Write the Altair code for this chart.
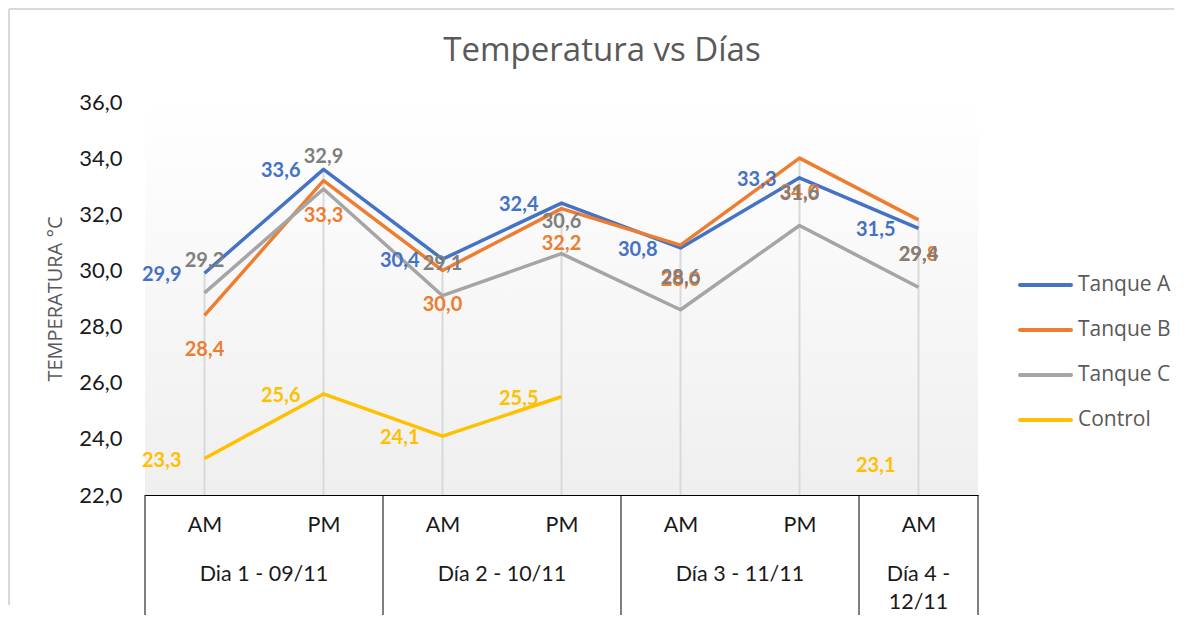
import altair as alt
import pandas as pd

# ---------------- data ----------------
idx = [0, 1, 2, 3, 4, 5, 6]
slots = ["AM", "PM", "AM", "PM", "AM", "PM", "AM"]
day_names = ["Dia 1 - 09/11", "Día 2 - 10/11", "Día 3 - 11/11", "Día 4 -\n12/11"]
day_first = [0, 2, 4, 6]
day_last = [1, 3, 5, 6]

series_names = ["Tanque A", "Tanque B", "Tanque C", "Control"]
series_colors = ["#4472C4", "#ED7D31", "#A5A5A5", "#FFC000"]
label_colors = ["#4472C4", "#ED7D31", "#7F7F7F", "#FFC000"]

tanque_a = [29.9, 33.6, 30.4, 32.4, 30.8, 33.3, 31.5]
tanque_b = [28.4, 33.2, 30.0, 32.2, 30.9, 34.0, 31.8]
tanque_c = [29.2, 32.9, 29.1, 30.6, 28.6, 31.6, 29.4]
control = [23.3, 25.6, 24.1, 25.5, None, None, 23.1]

labels_a = ["29,9", "33,6", "30,4", "32,4", "30,8", "33,3", "31,5"]
labels_b = ["28,4", "33,3", "30,0", "32,2", "28,0", "34,0", "29,8"]
labels_c = ["29,2", "32,9", "29,1", "30,6", "28,6", "31,6", "29,4"]
labels_ctrl = ["23,3", "25,6", "24,1", "25,5", None, None, "23,1"]

title_text = "Temperatura vs Días"
y_title = "TEMPERATURA °C"
y_min, y_max = 22, 36

# ---------------- tables ----------------
values = [tanque_a, tanque_b, tanque_c, control]
labels = [labels_a, labels_b, labels_c, labels_ctrl]
rows = []
for s, vals, labs in zip(series_names, values, labels):
    for i, v, l in zip(idx, vals, labs):
        rows.append({"series": s, "idx": i, "value": v, "label": l})
df = pd.DataFrame(rows)

df_days = pd.DataFrame({
    "name": day_names,
    "center": [(a + b) / 2 for a, b in zip(day_first, day_last)],
})
df_sep = pd.DataFrame({"pos": [day_first[0] - 0.5] + [b + 0.5 for b in day_last]})
one = pd.DataFrame({"a": [0]})

W, H = 833, 393
PAD = {"left": 137, "top": 94, "right": 208, "bottom": 120}
FONT_NUM = "Lato"
FONT_UI = "Open Sans"

x_enc = alt.X("idx:Q", scale=alt.Scale(domain=[-0.5, 6.5], nice=False, zero=False),
              axis=alt.Axis(values=idx, labelExpr="datum.value % 2 == 0 ? 'AM' : 'PM'",
                            ticks=False, grid=False, domainColor="#000000", domainWidth=1,
                            labelFont=FONT_NUM, labelFontSize=21.5, labelColor="#1a1a1a",
                            labelPadding=19, title=None))
y_enc = alt.Y("value:Q", scale=alt.Scale(domain=[y_min, y_max], nice=False, zero=False),
              axis=alt.Axis(values=list(range(y_min, y_max + 1, 2)),
                            labelExpr="replace(format(datum.value, '.1f'), '.', ',')",
                            ticks=False, grid=False, domainColor="#000000", domainWidth=1,
                            labelFont=FONT_NUM, labelFontSize=22, labelColor="#1a1a1a",
                            labelPadding=23, title=y_title, titleFont=FONT_UI,
                            titleFontSize=20, titleFontWeight="normal", titleColor="#595959",
                            titlePadding=13))

color_scale = alt.Scale(domain=series_names, range=series_colors)

# background gradient of the plot area
bg = alt.Chart(one).mark_rect(
    color=alt.Gradient(gradient="linear", x1=0, y1=0, x2=0, y2=1,
                       stops=[alt.GradientStop(color="#ffffff", offset=0),
                              alt.GradientStop(color="#efefef", offset=1)])
).encode(x=alt.value(0), x2=alt.value(W), y=alt.value(0), y2=alt.value(H))

# drop lines
drops = alt.Chart(df).transform_filter("isValid(datum.value)").transform_aggregate(
    top="max(value)", groupby=["idx"]
).mark_rule(color="#d9d9d9", strokeWidth=2).encode(
    x=alt.X("idx:Q"), y=alt.Y("top:Q"), y2=alt.datum(y_min)
)

lines = alt.Chart(df).mark_line(strokeWidth=3.5, strokeJoin="round",
                                invalid="break-paths-filter-domains").encode(
    x=x_enc, y=y_enc,
    color=alt.Color("series:N", scale=color_scale, legend=None),
    order="idx:Q",
)

# data labels (Excel style placement per series)
label_align = ["right", "center", "center", "right"]
label_dx = [-23, 0, 0, -23]
label_dy = [2, 35, -32, 2]
label_layers = []
for k in [0, 3, 1, 2]:
    label_layers.append(
        alt.Chart(df).transform_filter(
            alt.datum.series == series_names[k]
        ).transform_filter("isValid(datum.label)").mark_text(
            align=label_align[k], baseline="middle", dx=label_dx[k], dy=label_dy[k],
            font=FONT_NUM, fontSize=20, fontWeight="bold", color=label_colors[k]
        ).encode(x=alt.X("idx:Q"), y=alt.Y("value:Q"), text="label:N")
    )

# multi-level category axis: separators and day labels
seps = alt.Chart(df_sep).mark_rule(color="#000000", strokeWidth=1).encode(
    x=alt.X("pos:Q"), y=alt.value(H), y2=alt.value(H + 122)
)
days = alt.Chart(df_days).mark_text(
    baseline="top", align="center", lineBreak="\n", lineHeight=28,
    font=FONT_NUM, fontSize=21.5, color="#1a1a1a"
).encode(x=alt.X("center:Q"), y=alt.value(H + 69), text="name:N")

# legend (manual, Excel style)
legend_layers = []
for i, (s, c) in enumerate(zip(series_names, series_colors)):
    ly = 183 + 45 * i
    legend_layers.append(alt.Chart(one).mark_rule(color=c, strokeWidth=4, strokeCap="round").encode(
        x=alt.value(875), x2=alt.value(926), y=alt.value(ly)))
    legend_layers.append(alt.Chart(one).mark_text(
        align="left", baseline="middle", font=FONT_UI, fontSize=21, color="#595959", text=s
    ).encode(x=alt.value(933), y=alt.value(ly)))

# chart title
title = alt.Chart(one).mark_text(
    align="center", baseline="middle", font=FONT_UI, fontSize=33, color="#595959", text=title_text
).encode(x=alt.value(457), y=alt.value(-51))

# outer chart border: top and left edges, stopping short of the drawing surface's edges
border = [
    alt.Chart(one).mark_rule(color="#d9d9d9", strokeWidth=2).encode(
        x=alt.value(-136), x2=alt.value(W + PAD["right"] - 12), y=alt.value(-93)),
    alt.Chart(one).mark_rule(color="#d9d9d9", strokeWidth=2).encode(
        x=alt.value(-136), y=alt.value(-93), y2=alt.value(H + PAD["bottom"] - 10)),
]

chart = alt.layer(
    bg, drops, lines, *label_layers, seps, days, *legend_layers, title, *border
).properties(
    width=W, height=H,
    autosize=alt.AutoSizeParams(type="none"),
    padding=PAD,
).configure_view(stroke=None)

chart.save("out.html", embed_options={"renderer": "svg", "actions": False})
